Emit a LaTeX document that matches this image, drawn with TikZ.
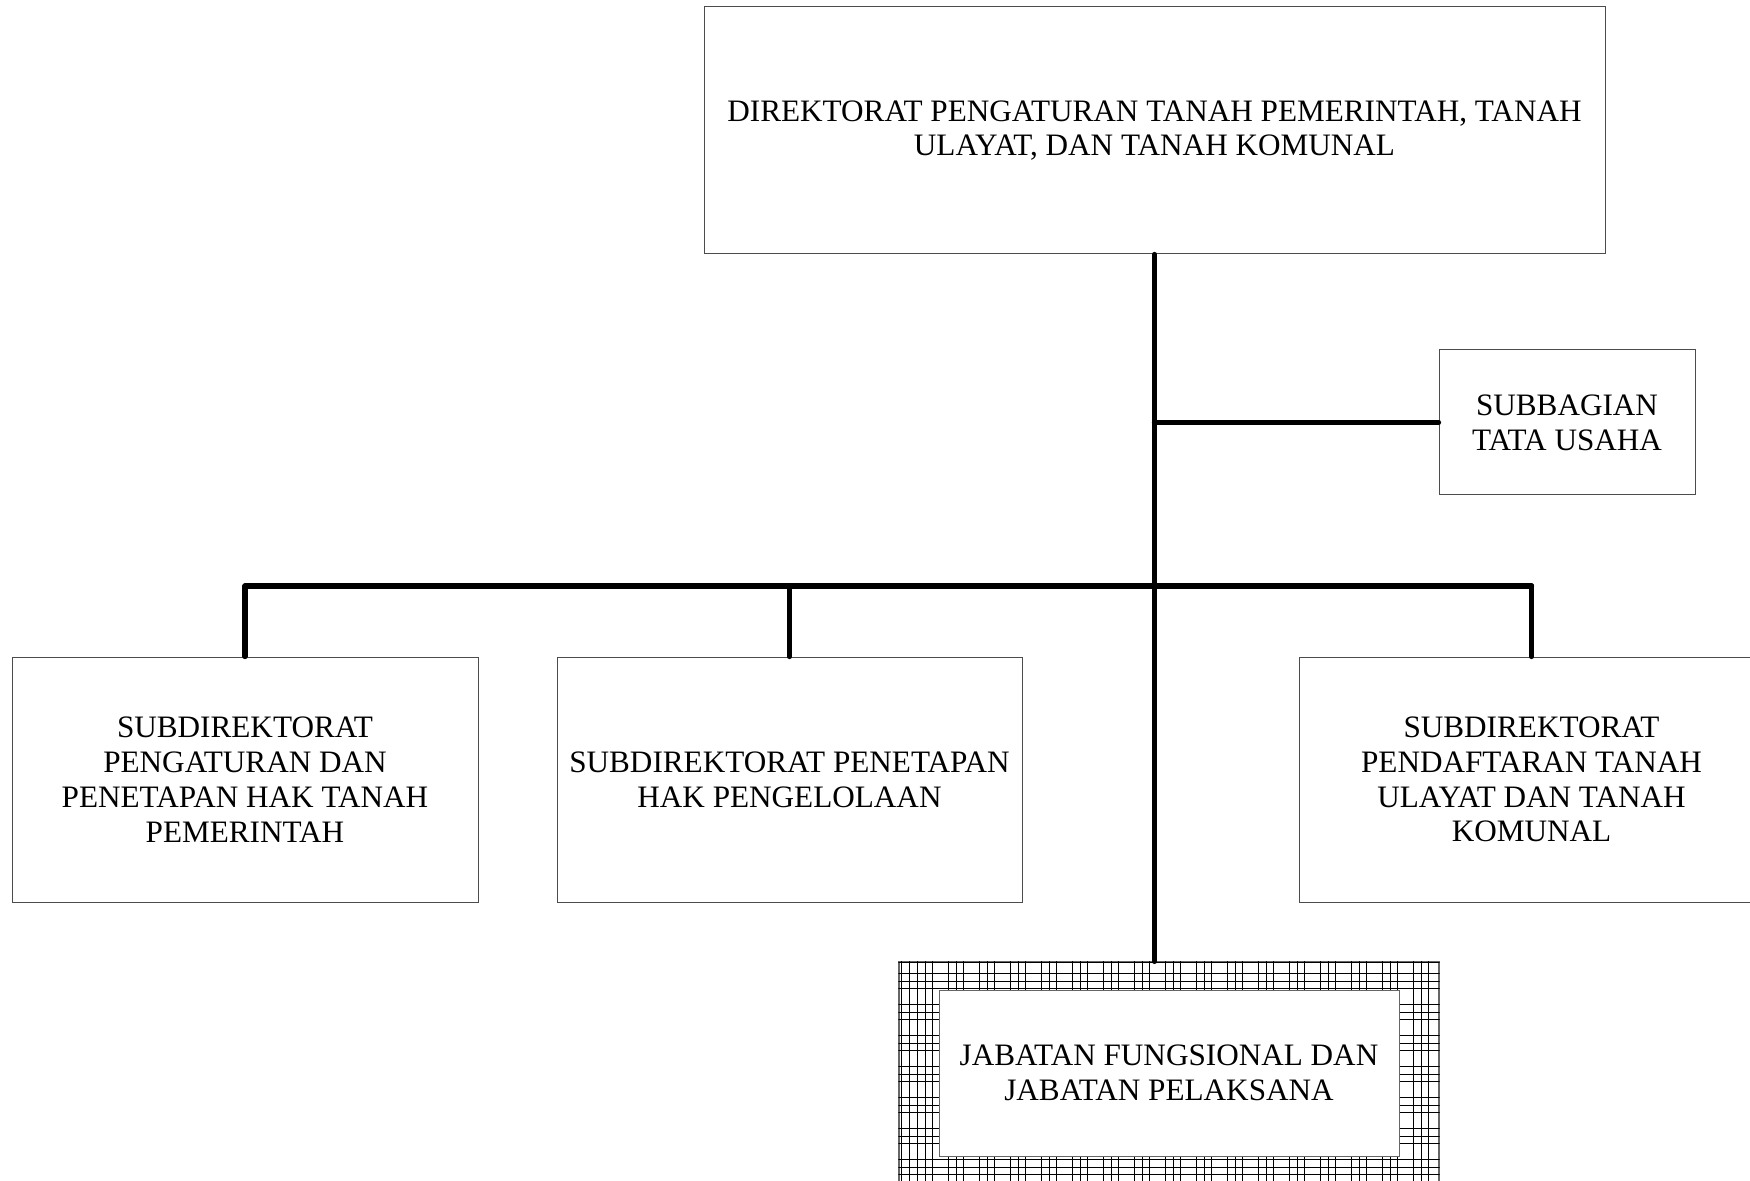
\documentclass[tikz,border=0pt]{standalone}
\usepackage{fontspec}
\setmainfont{Liberation Serif}
\begin{document}
\begin{tikzpicture}[x=0.5pt,y=-0.5pt,
  unit/.style={draw=black!70, line width=0.5pt, fill=white, inner sep=2pt,
    align=center, font=\fontsize{15.6}{17.4}\selectfont},
  link/.style={line width=2.65pt, line cap=round},
  gridline/.style={line width=0.55pt, black}]
\useasboundingbox (0,0) rectangle (1750,1181);
\fill[white] (0,0) rectangle (1750,1181);

% directorate at the top
\node[unit, minimum width=450.5pt, minimum height=123.5pt] (top) at (1154.5,130.5)
  {DIREKTORAT PENGATURAN TANAH PEMERINTAH, TANAH\\ULAYAT, DAN TANAH KOMUNAL};

% administrative subsection
\node[unit, minimum width=128pt, minimum height=72.5pt] (tu) at (1567,422.5)
  {SUBBAGIAN\\TATA USAHA};

% subdirectorates
\node[unit, minimum width=233pt, minimum height=122.5pt] (sd1) at (245,779.5)
  {SUBDIREKTORAT\\PENGATURAN DAN\\PENETAPAN HAK TANAH\\PEMERINTAH};
\node[unit, minimum width=232.5pt, minimum height=122.5pt] (sd2) at (789.5,779.5)
  {SUBDIREKTORAT PENETAPAN\\HAK PENGELOLAAN};
\node[unit, minimum width=232.5pt, minimum height=122.5pt] (sd3) at (1531.5,779.5)
  {SUBDIREKTORAT\\PENDAFTARAN TANAH\\ULAYAT DAN TANAH\\KOMUNAL};

% functional positions: cross-hatched frame with a white panel inside
\node[draw=black!60, line width=0.6pt, minimum width=270pt, minimum height=120pt,
  inner sep=0pt] (jfo) at (1169,1082) {};
\begin{scope}
  \clip (jfo.south west) rectangle (jfo.north east);
  % hatch lines come in groups of three, one slot left empty in four
  \foreach \b in {-1,...,17} \foreach \j in {0,1,2}
    \draw[gridline] ({917.3+31*\b+7.75*\j},950) -- ++(0,260);
  \draw[gridline] (909.5,950) -- ++(0,260);
  \foreach \b in {-1,...,7} \foreach \j in {0,1,2}
    \draw[gridline] (890,{973.3+31*\b+7.75*\j}) -- ++(560,0);
  \draw[gridline] (890,962.5) -- ++(560,0);
\end{scope}
\node[unit, draw=black!60, minimum width=230pt, minimum height=83pt] (jf) at (1169,1073)
  {JABATAN FUNGSIONAL DAN\\JABATAN PELAKSANA};

% connectors
\coordinate (bus) at (0,586);
\draw[link] (top.south) -- (top.south |- jfo.north);
\draw[link] (top.south |- tu.west) -- (tu.west);
\draw[link] (sd1.north |- bus) -- (sd3.north |- bus);
\draw[link] (sd1.north |- bus) -- (sd1.north);
\draw[link] (sd2.north |- bus) -- (sd2.north);
\draw[link] (sd3.north |- bus) -- (sd3.north);
\end{tikzpicture}
\end{document}
